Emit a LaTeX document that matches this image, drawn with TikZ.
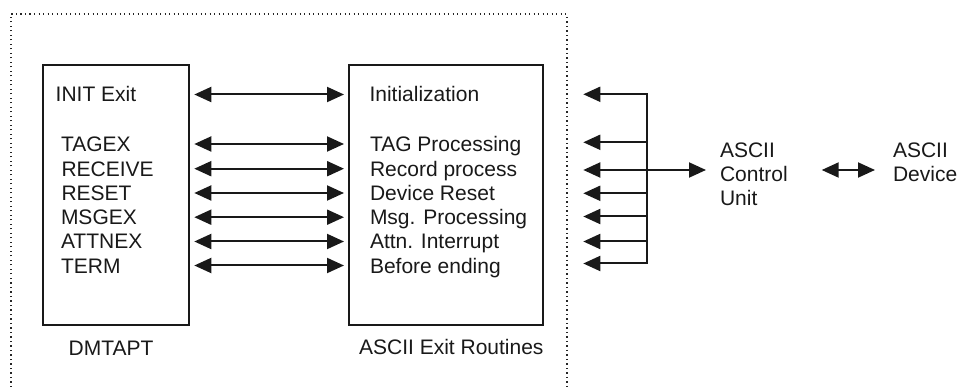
\documentclass[tikz,border=0pt]{standalone}
\usepackage{fontspec}
\setmainfont{Liberation Sans}
\usetikzlibrary{arrows.meta}
\tikzset{
  box/.style={draw, line width=2pt, inner sep=0pt, draw=black!90},
  txt/.style={font=\fontsize{21}{24}\selectfont, text=black!90, inner sep=0pt, outer sep=0pt, anchor=west, text height=15pt, text depth=0pt},
  mtxt/.style={font=\fontsize{21}{24}\selectfont, text=black!90, inner sep=0pt, outer sep=0pt, align=left, anchor=north west},
  dbl/.style={{Triangle[length=17pt,width=15pt]}-{Triangle[length=17pt,width=15pt]}, line width=2pt, black!90},
  sgl/.style={-{Triangle[length=17pt,width=15pt]}, line width=2pt, black!90},
  frame/.style={line width=1.6pt, dash pattern=on 1.4pt off 3.1pt, black!85}
}
\begin{document}
\begin{tikzpicture}[x=1pt,y=-1pt]
\useasboundingbox (0,0) rectangle (958,387);
% dotted frame
\draw[frame] (11,387) -- (11,14) -- (566.7,14) -- (566.7,387);
% boxes
\node[box, minimum width=145.4pt, minimum height=260pt] (dm) at (116,195) {};
\node[box, minimum width=194pt, minimum height=260pt] (er) at (446.3,195) {};
% left texts
\node[txt] (l1) at (55.7,94.5) {INIT Exit};
\node[txt] (l2) at (61,144) {TAGEX};
\node[txt] (l3) at (61.5,168.7) {RECEIVE};
\node[txt] (l4) at (61.5,193) {RESET};
\node[txt] (l5) at (61,217.2) {MSGEX};
\node[txt] (l6) at (61,241.5) {ATTNEX};
\node[txt] (l7) at (61,265.5) {TERM};
% right texts
\node[txt] (r1) at (369.5,94.5) {Initialization};
\node[txt] (r2) at (370,144) {TAG Processing};
\node[txt] (r3) at (370,168.7) {Record process};
\node[txt] (r4) at (370,193) {Device Reset};
\node[txt] (r5) at (370,217.2) {Msg. Processing};
\node[txt] (r6) at (370,241.5) {Attn. Interrupt};
\node[txt] (r7) at (370,265.5) {Before ending};
% labels under boxes
\node[txt, anchor=center] (dml) at (111,347.5) {DMTAPT};
\node[txt, anchor=center] (erl) at (451.3,346.5) {ASCII Exit Routines};
% arrows between boxes
\foreach \i in {1,...,7}{
  \draw[dbl, shorten <=4.6pt, shorten >=4.3pt] (dm.east |- l\i) -- (er.west |- l\i);
}
% bus on the right
\coordinate (b1) at (647.3,94.3);
\coordinate (b2) at (647.3,142.3);
\coordinate (b3) at (647.3,170);
\coordinate (b4) at (647.3,193.3);
\coordinate (b5) at (647.3,216.5);
\coordinate (b6) at (647.3,241.5);
\coordinate (b7) at (647.3,263.5);
\coordinate (t1) at (583.3,94.3);
\coordinate (t2) at (583.3,142.3);
\coordinate (t3) at (583.3,170);
\coordinate (t4) at (583.3,193.3);
\coordinate (t5) at (583.3,216.5);
\coordinate (t6) at (583.3,241.5);
\coordinate (t7) at (583.3,263.5);
\draw[dbl, line join=miter] (t1) -- (b1) -- (b7) -- (t7);
\foreach \i in {2,...,6}{
  \draw[sgl] (b\i) -- (t\i);
}
% control unit and device
\node[mtxt] (cu) at (720,142.7) {ASCII\\Control\\Unit};
\node[mtxt] (dev) at (893,142.7) {ASCII\\Device};
\draw[sgl, shorten >=14pt] (b3) -- (cu.west |- b3);
\draw[dbl, shorten <=34pt, shorten >=18pt] (cu.east |- b3) -- (dev.west |- b3);
\end{tikzpicture}
\end{document}
